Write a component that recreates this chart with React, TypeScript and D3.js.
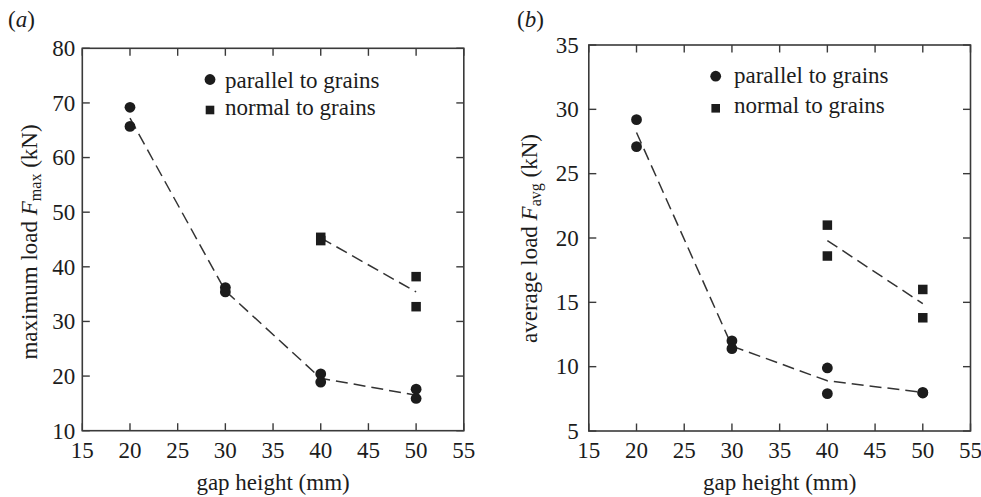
import React from "react";
import * as d3 from "d3";

// Gap height (mm) for each specimen
const gapParallel = [20, 20, 30, 30, 40, 40, 50, 50];
const gapNormal = [40, 40, 50, 50];
const fitGapParallel = [20, 30, 40, 50];
const fitGapNormal = [40, 50];

// (a) maximum load F_max (kN)
const maxParallel = [69.2, 65.7, 36.2, 35.4, 20.4, 18.9, 17.6, 15.9];
const maxNormal = [45.4, 44.8, 38.2, 32.7];
const maxFitParallel = [67.2, 35.6, 19.6, 16.5];
const maxFitNormal = [45.3, 35.4];

// (b) average load F_avg (kN)
const avgParallel = [29.2, 27.1, 12.0, 11.4, 9.9, 7.9, 8.0, 7.95];
const avgNormal = [21.0, 18.6, 16.0, 13.8];
const avgFitParallel = [28.2, 11.6, 8.9, 8.0];
const avgFitNormal = [19.8, 14.9];

const xTicks = [15, 20, 25, 30, 35, 40, 45, 50, 55];
const yTicksMax = [10, 20, 30, 40, 50, 60, 70, 80];
const yTicksAvg = [5, 10, 15, 20, 25, 30, 35];

const legendLabels = ["parallel to grains", "normal to grains"];

const FONT = "Liberation Serif, Tinos, Times New Roman, DejaVu Serif, serif";
const INK = "#1c1c1c";
const FRAME = "#3a3a3a";
const txt = { fontFamily: FONT, fontSize: "23px" } as React.CSSProperties;

type PanelProps = {
  tag: string;
  left: number;
  right: number;
  top: number;
  bottom: number;
  yDomain: [number, number];
  yTicks: number[];
  parallel: number[];
  normal: number[];
  fitParallel: number[];
  fitNormal: number[];
  yLabelMain: string;
  yLabelSub: string;
  yLabelX: number;
  yLabelY: number;
  tickGap: number;
  tagX: number;
  legend: { mx: number; tx: number; cy: number; sy: number; b1: number; b2: number };
};

function Panel(p: PanelProps) {
  const x = d3.scaleLinear().domain([15, 55]).range([p.left, p.right]);
  const y = d3.scaleLinear().domain(p.yDomain).range([p.bottom, p.top]);
  const line = d3
    .line<[number, number]>()
    .x((d) => x(d[0]))
    .y((d) => y(d[1]));
  const fitP = line(fitGapParallel.map((g, i) => [g, p.fitParallel[i]]));
  const fitN = line(fitGapNormal.map((g, i) => [g, p.fitNormal[i]]));
  const tl = 7.5;
  const sq = 9.5;
  const r = 5.4;
  const xMid = (p.left + p.right) / 2;

  return (
    <g>
      <text x={p.tagX} y={27} style={txt} fill={INK}>
        (<tspan fontStyle="italic">{p.tag}</tspan>)
      </text>

      {/* frame */}
      <rect
        x={p.left}
        y={p.top}
        width={p.right - p.left}
        height={p.bottom - p.top}
        fill="none"
        stroke={FRAME}
        strokeWidth={1.6}
      />

      {/* inward ticks on all sides */}
      {xTicks.map((t) => (
        <g key={"x" + t}>
          <line x1={x(t)} x2={x(t)} y1={p.bottom} y2={p.bottom - tl} stroke={FRAME} strokeWidth={1.4} />
          <line x1={x(t)} x2={x(t)} y1={p.top} y2={p.top + tl} stroke={FRAME} strokeWidth={1.4} />
          <text x={x(t)} y={458} textAnchor="middle" style={txt} fill={INK}>
            {t}
          </text>
        </g>
      ))}
      {p.yTicks.map((t) => (
        <g key={"y" + t}>
          <line x1={p.left} x2={p.left + tl} y1={y(t)} y2={y(t)} stroke={FRAME} strokeWidth={1.4} />
          <line x1={p.right} x2={p.right - tl} y1={y(t)} y2={y(t)} stroke={FRAME} strokeWidth={1.4} />
          <text x={p.left - p.tickGap} y={y(t)} dy="0.34em" textAnchor="end" style={txt} fill={INK}>
            {t}
          </text>
        </g>
      ))}

      {/* axis titles */}
      <text x={xMid} y={489.5} textAnchor="middle" style={txt} fill={INK}>
        gap height (mm)
      </text>
      <text
        transform={`translate(${p.yLabelX},${p.yLabelY}) rotate(-90)`}
        textAnchor="middle"
        style={txt}
        fill={INK}
      >
        {p.yLabelMain} <tspan fontStyle="italic">F</tspan>
        <tspan style={{ fontSize: "16px" }} dy={4.5}>
          {p.yLabelSub}
        </tspan>
        <tspan dy={-4.5}> (kN)</tspan>
      </text>

      {/* fitted trends */}
      <path d={fitP ?? ""} fill="none" stroke="#333" strokeWidth={1.5} strokeDasharray="12,6" />
      <path d={fitN ?? ""} fill="none" stroke="#333" strokeWidth={1.5} strokeDasharray="12,6" />

      {/* specimens */}
      {gapParallel.map((g, i) => (
        <circle key={"p" + i} cx={x(g)} cy={y(p.parallel[i])} r={r} fill={INK} />
      ))}
      {gapNormal.map((g, i) => (
        <rect
          key={"n" + i}
          x={x(g) - sq / 2}
          y={y(p.normal[i]) - sq / 2}
          width={sq}
          height={sq}
          fill={INK}
        />
      ))}

      {/* legend */}
      <circle cx={p.legend.mx} cy={p.legend.cy} r={r} fill={INK} />
      <text x={p.legend.tx} y={p.legend.b1} style={txt} fill={INK}>
        {legendLabels[0]}
      </text>
      <rect x={p.legend.mx - 4.3} y={p.legend.sy - 4.3} width={8.6} height={8.6} fill={INK} />
      <text x={p.legend.tx} y={p.legend.b2} style={txt} fill={INK}>
        {legendLabels[1]}
      </text>
    </g>
  );
}

export default function App() {
  return (
    <svg
      width={981}
      height={497}
      style={{ position: "absolute", left: 0, top: 0, display: "block", background: "#fff" }}
    >
      <rect width={981} height={497} fill="#fff" />
      <Panel
        tag="a"
        tagX={8}
        left={82.3}
        right={463.8}
        top={48.3}
        bottom={430.7}
        yDomain={[10, 80]}
        yTicks={yTicksMax}
        parallel={maxParallel}
        normal={maxNormal}
        fitParallel={maxFitParallel}
        fitNormal={maxFitNormal}
        yLabelMain="maximum load"
        yLabelSub="max"
        yLabelX={36.5}
        yLabelY={242}
        tickGap={7}
        legend={{ mx: 210, tx: 225, cy: 79.5, sy: 110, b1: 88, b2: 115 }}
      />
      <Panel
        tag="b"
        tagX={517}
        left={588.8}
        right={970.5}
        top={45}
        bottom={431}
        yDomain={[5, 35]}
        yTicks={yTicksAvg}
        parallel={avgParallel}
        normal={avgNormal}
        fitParallel={avgFitParallel}
        fitNormal={avgFitNormal}
        yLabelMain="average load"
        yLabelSub="avg"
        yLabelX={536.7}
        yLabelY={238.5}
        tickGap={10}
        legend={{ mx: 715.7, tx: 734, cy: 76.2, sy: 108.3, b1: 82.7, b2: 113.3 }}
      />
    </svg>
  );
}
